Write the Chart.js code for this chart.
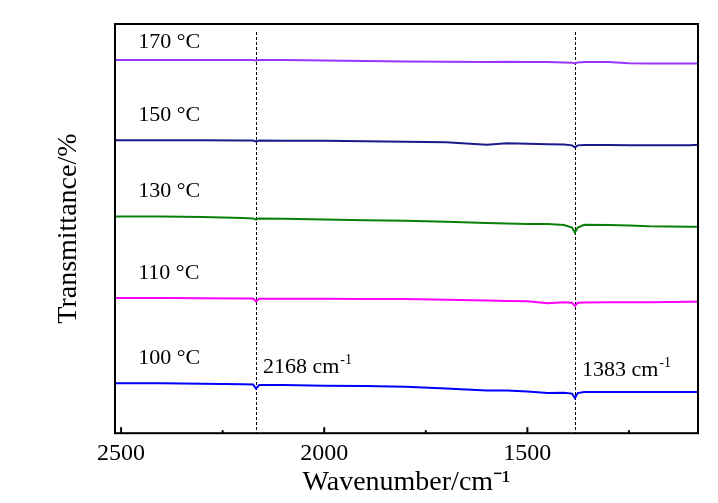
<!DOCTYPE html>
<html>
<head>
<meta charset="utf-8">
<script src="https://cdn.jsdelivr.net/npm/chart.js@4"></script>
<style>
  html, body { margin: 0; padding: 0; background: #fff; }
</style>
</head>
<body>
<canvas id="ftirChart" width="718" height="503"></canvas>
<script>
// wavenumber grid (cm-1) shared by all spectra
const wavenumbers = [2515, 2400, 2300, 2200, 2175, 2168, 2160, 2100, 2000, 1900, 1800, 1700, 1600,
                     1550, 1500, 1450, 1410, 1390, 1383, 1376, 1360, 1300, 1250, 1200, 1100, 1080];

// transmittance (offset, arbitrary units)
const t170 = [91.18, 91.18, 91.18, 91.18, 91.18, 91.10, 91.18, 91.18, 91.10, 90.93, 90.86, 90.76, 90.69,
              90.76, 90.69, 90.69, 90.61, 90.56, 90.37, 90.61, 90.69, 90.69, 90.39, 90.37, 90.37, 90.37];
const t150 = [71.57, 71.57, 71.57, 71.50, 71.50, 71.32, 71.50, 71.45, 71.45, 71.37, 71.20, 71.08, 70.51,
              70.83, 70.76, 70.59, 70.54, 70.34, 69.85, 70.34, 70.42, 70.42, 70.34, 70.34, 70.34, 70.47];
const t130 = [52.94, 52.94, 52.82, 52.57, 52.45, 52.25, 52.45, 52.38, 52.21, 52.03, 51.91, 51.67, 51.35,
              51.23, 51.15, 51.10, 50.86, 50.25, 49.02, 50.25, 50.93, 50.86, 50.74, 50.56, 50.44, 50.44];
const t110 = [33.01, 33.01, 32.97, 32.92, 32.89, 32.23, 32.84, 32.84, 32.84, 32.77, 32.77, 32.60, 32.43,
              32.28, 32.23, 31.74, 31.99, 31.86, 31.13, 31.86, 31.94, 31.99, 31.99, 31.99, 32.11, 32.11];
const t100 = [12.18, 12.18, 12.06, 11.94, 11.89, 10.91, 11.76, 11.76, 11.59, 11.52, 11.35, 10.91, 10.42,
              10.42, 10.22, 9.80, 9.88, 9.68, 8.58, 9.80, 10.05, 10.05, 10.05, 10.05, 10.05, 10.05];

const seriesNames = ['170 °C', '150 °C', '130 °C', '110 °C', '100 °C'];
const seriesValues = [t170, t150, t130, t110, t100];
const seriesColors = ['#9933ff', '#1a1a8c', '#0a800a', '#ff00ff', '#0000ff'];

const xTicks = [2500, 2000, 1500];
const xMinorTicks = [2250, 1750, 1250];
const peakPositions = [2168, 1383];
const peakLabels = ['2168 cm', '1383 cm'];

const serif = "'Liberation Serif', 'Times New Roman', serif";

const framePlugin = {
    id: 'frame',
    beforeDatasetsDraw(chart) {
        const { ctx, chartArea: a, scales: { x } } = chart;
        ctx.save();
        ctx.strokeStyle = '#000';
        ctx.lineWidth = 1;
        ctx.setLineDash([3, 2]);
        peakPositions.forEach(p => {
            const px = Math.round(x.getPixelForValue(p)) + 0.5;
            ctx.beginPath();
            ctx.moveTo(px, a.top + 8);
            ctx.lineTo(px, a.bottom);
            ctx.stroke();
        });
        ctx.restore();
    },
    afterDatasetsDraw(chart) {
        const { ctx, chartArea: a, scales: { x, y } } = chart;
        ctx.save();

        // box
        ctx.strokeStyle = '#000';
        ctx.lineWidth = 2;
        ctx.strokeRect(a.left, a.top, a.right - a.left, a.bottom - a.top);

        // inward ticks on the bottom axis
        xTicks.forEach(v => {
            const px = x.getPixelForValue(v);
            ctx.beginPath();
            ctx.moveTo(px, a.bottom);
            ctx.lineTo(px, a.bottom - 6);
            ctx.stroke();
        });
        xMinorTicks.forEach(v => {
            const px = x.getPixelForValue(v);
            ctx.beginPath();
            ctx.moveTo(px, a.bottom);
            ctx.lineTo(px, a.bottom - 3);
            ctx.stroke();
        });

        // temperature labels above each spectrum
        ctx.fillStyle = '#000';
        ctx.font = '22px ' + serif;
        ctx.textBaseline = 'middle';
        ctx.textAlign = 'left';
        seriesNames.forEach((name, i) => {
            const py = Math.max(y.getPixelForValue(seriesValues[i][0]) - 25, a.top + 18);
            ctx.fillText(name, x.getPixelForValue(2458), py);
        });

        // peak labels with superscript -1
        ctx.textBaseline = 'alphabetic';
        peakLabels.forEach((label, i) => {
            const px = x.getPixelForValue(peakPositions[i]) + 7;
            const py = a.bottom - 60 + (i === 1 ? 3 : 0);
            ctx.font = '22px ' + serif;
            ctx.fillText(label, px, py);
            const w = ctx.measureText(label).width;
            ctx.font = '14px ' + serif;
            ctx.fillText('-1', px + w + 1, py - 9);
        });

        ctx.restore();
    }
};

new Chart(document.getElementById('ftirChart').getContext('2d'), {
    type: 'line',
    data: {
        datasets: seriesNames.map((name, i) => ({
            label: name,
            data: wavenumbers.map((w, j) => ({ x: w, y: seriesValues[i][j] })),
            borderColor: seriesColors[i],
            borderWidth: 2,
            pointRadius: 0,
            tension: 0
        }))
    },
    options: {
        responsive: false,
        animation: false,
        layout: { padding: { top: 24, right: 20, left: 0, bottom: 0 } },
        plugins: {
            legend: { display: false },
            tooltip: { enabled: false }
        },
        scales: {
            x: {
                type: 'linear',
                reverse: true,
                min: 1080,
                max: 2515,
                afterBuildTicks: scale => {
                    scale.ticks = xTicks.map(v => ({ value: v }));
                },
                grid: { display: false, drawTicks: false },
                border: { display: false },
                ticks: {
                    color: '#000',
                    font: { family: serif, size: 24 },
                    padding: 6,
                    maxRotation: 0,
                    autoSkip: false,
                    callback: v => String(v)
                },
                title: {
                    display: true,
                    text: 'Wavenumber/cm⁻¹',
                    color: '#000',
                    font: { family: serif, size: 28, lineHeight: 1 },
                    padding: { top: -5, bottom: 6 }
                }
            },
            y: {
                min: 0,
                max: 100,
                grid: { display: false, drawTicks: false },
                border: { display: false },
                ticks: { display: false },
                title: {
                    display: true,
                    text: 'Transmittance/%',
                    color: '#000',
                    font: { family: serif, size: 28, lineHeight: 1 },
                    padding: { top: 55, bottom: 32 }
                }
            }
        }
    },
    plugins: [framePlugin]
});
</script>
</body>
</html>
